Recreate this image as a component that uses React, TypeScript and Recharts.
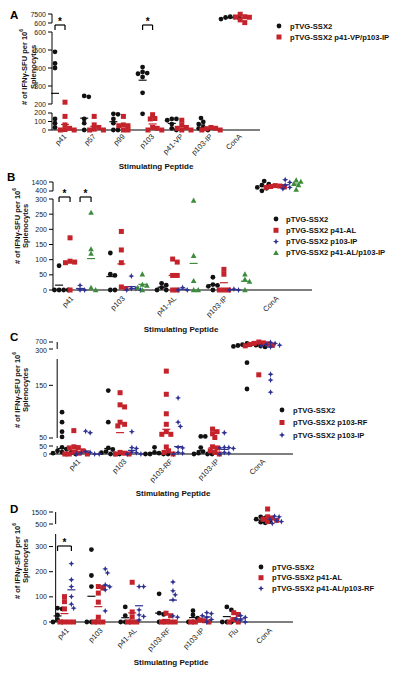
import React from 'react';
import { ScatterChart, Scatter, XAxis, YAxis, ReferenceLine } from 'recharts';

const FONT = '"Liberation Sans", Arial, Helvetica, sans-serif';
const BLACK = '#111111';
const RED = '#c4232b';
const BLUE = '#2e3192';
const GREEN = '#3c8c3c';

// ---------------- Panel A ----------------
const catsA = ['p41', 'p57', 'p99', 'p103', 'p41-VP', 'p103-IP', 'ConA'];
const aSSX2 = [
  [490, 425, 400, 130, 80, 30],
  [245, 240, 130, 80, 0],
  [190, 185, 130, 80, 0, 0],
  [405, 378, 372, 368, 350, 262, 190],
  [130, 130, 115, 70, 20, 0],
  [140, 95, 70, 35, 20, 0],
  [5400, 5100, 4800, 4300, 3600],
];
const aVPIP = [
  [210, 160, 60, 20, 5, 0, 0],
  [160, 60, 30, 10, 0, 0],
  [160, 60, 50, 50, 0, 0],
  [180, 135, 130, 30, 20, 0, 0],
  [115, 60, 30, 20, 0, 0],
  [30, 20, 15, 0, 0],
  [7300, 5400, 5200, 5000, 3000, 900],
];
const aTicks = [[0, 100, 200], [200, 300, 400, 500, 600], [600, 7500]];
const aNames = ['pTVG-SSX2', 'pTVG-SSX2 p41-VP/p103-IP'];

// ---------------- Panel B ----------------
const catsB = ['p41', 'p103', 'p41-AL', 'p103-IP', 'ConA'];
const bSSX2 = [
  [80, 0, 0, 0, 0],
  [122, 52, 48, 0, 0],
  [22, 16, 8, 0, 0],
  [42, 18, 15, 12, 0],
  [1500, 1150, 1050, 800, 700, 420],
];
const bAL = [
  [172, 95, 92, 90, 0],
  [193, 132, 90, 10, 5],
  [102, 92, 48, 48, 0, 0],
  [68, 52, 0, 0, 0],
  [1000, 950, 900, 850, 800],
];
const bIP = [
  [15, 0, 0],
  [46, 5, 5, 0, 0],
  [8, 0, 0],
  [3, 0, 0],
  [1650, 1350, 1050, 800, 650],
];
const bALIP = [
  [255, 135, 120, 8, 0],
  [52, 18, 15, 8, 0],
  [295, 113, 30, 0, 0],
  [52, 35, 28, 0],
  [1600, 1450, 1200, 1050, 550],
];
const bTicks = [[0, 50, 100, 150, 200, 250, 300], [400, 1400]];
const bNames = ['pTVG-SSX2', 'pTVG-SSX2 p41-AL', 'pTVG-SSX2 p103-IP', 'pTVG-SSX2 p41-AL/p103-IP'];

// ---------------- Panel C ----------------
const catsC = ['p41', 'p103', 'p103-RF', 'p103-IP', 'ConA'];
const cSSX2 = [
  [99, 80, 62, 52, 42, 30, 20, 12, 8, 5, 0, 0],
  [140, 80, 38, 28, 15, 8, 0, 0, 0],
  [42, 10, 5, 0, 0, 0, 0],
  [53, 53, 40, 15, 5, 0, 0, 0],
  [620, 580, 550, 520, 500, 470, 450, 420, 193, 143],
];
const cRF = [
  [64, 45, 40, 38, 20, 12, 5, 0, 0, 0],
  [136, 113, 109, 80, 76, 73, 10, 5, 0, 0],
  [177, 133, 96, 76, 62, 57, 57, 44, 20, 10, 0],
  [67, 62, 58, 51, 45, 38, 20, 10, 0],
  [700, 650, 620, 600, 560, 520, 480, 170],
];
const cIP = [
  [63, 60, 15, 10, 5, 0, 0, 0],
  [62, 40, 35, 12, 8, 0, 0],
  [126, 80, 72, 42, 38, 10, 5, 0],
  [60, 42, 40, 38, 35, 10, 5, 0],
  [680, 620, 560, 520, 480, 420, 171, 160, 137],
];
const cTicks = [[0, 50], [50, 150], [300, 700]];
const cNames = ['pTVG-SSX2', 'pTVG-SSX2 p103-RF', 'pTVG-SSX2 p103-IP'];

// ---------------- Panel D ----------------
const catsD = ['p41', 'p103', 'p41-AL', 'p103-RF', 'p103-IP', 'Flu', 'ConA'];
const dSSX2 = [
  [55, 52, 28, 10, 0, 0],
  [288, 185, 141, 0, 0, 0],
  [60, 25, 0, 0, 0],
  [112, 35, 30, 0, 0],
  [45, 28, 15, 0, 0],
  [60, 48, 0, 0, 0],
  [1100, 1000, 900, 750, 650, 600],
];
const dAL = [
  [101, 81, 52, 0, 0, 0, 0],
  [141, 135, 115, 79, 19, 0, 0, 0],
  [158, 40, 20, 0, 0, 0],
  [35, 25, 0, 0, 0, 0],
  [8, 5, 0, 0, 0],
  [37, 30, 10, 0, 0],
  [1750, 1100, 1000, 900, 800, 700],
];
const dALRF = [
  [232, 168, 141, 101, 71, 55],
  [211, 195, 148, 140, 128, 44],
  [141, 141, 48, 28, 22, 8],
  [159, 124, 108, 88, 24, 19],
  [37, 33, 25, 18, 10, 0],
  [25, 18, 12, 8, 0],
  [1150, 1100, 900, 800, 700, 550],
];
const dTicks = [[0, 100, 200, 300], [500, 1500]];
const dNames = ['pTVG-SSX2', 'pTVG-SSX2 p41-AL', 'pTVG-SSX2 p41-AL/p103-RF'];

// ---------------- layout ----------------
type Seg = { lo: number; hi: number; px: number };
type Series = { name: string; values: number[][]; color: string; kind: string; offset: number };
type Bracket = { cat: number; from: number; to: number; y: number };
type Panel = {
  letter: string; letterX: number; letterY: number;
  top: number; height: number;
  plotTop: number; plotBottom: number; plotLeft: number; plotRight: number;
  xDomain: [number, number];
  segs: Seg[]; gaps: number[]; ticks: number[][];
  cats: string[]; series: Series[]; brackets: Bracket[];
  tickDx: number; tickDy: number;
  yLab: { x1: number; x2: number; y: number };
  xLab: { x: number; y: number };
  legend: { mx: number; tx: number; y0: number; dy: number };
};

const HEAD = 14;
const YW = 30;
const XH = 30;
const YFONT = 7;

const panels: Panel[] = [
  {
    letter: 'A', letterX: 10, letterY: 18.5, top: 0, height: 180,
    plotTop: 14, plotBottom: 130, plotLeft: 52, plotRight: 260, xDomain: [-0.274, 6.85],
    segs: [{ lo: 0, hi: 200, px: 17 }, { lo: 200, hi: 600, px: 72 }, { lo: 600, hi: 7500, px: 9 }],
    gaps: [9, 9], ticks: aTicks, cats: catsA,
    series: [
      { name: aNames[0], values: aSSX2, color: BLACK, kind: 'circle', offset: -5 },
      { name: aNames[1], values: aVPIP, color: RED, kind: 'square', offset: 5 },
    ],
    brackets: [{ cat: 0, from: 0, to: 1, y: 105 }, { cat: 3, from: 0, to: 1, y: 105 }],
    tickDx: 7, tickDy: 7, yLab: { x1: 24, x2: 33, y: 67 }, xLab: { x: 156, y: 166 },
    legend: { mx: 279, tx: 290, y0: 26, dy: 11 },
  },
  {
    letter: 'B', letterX: 7, letterY: 180.5, top: 165, height: 175,
    plotTop: 182, plotBottom: 290, plotLeft: 53, plotRight: 312, xDomain: [-0.43, 4.62],
    segs: [{ lo: 0, hi: 300, px: 91 }, { lo: 400, hi: 1400, px: 9 }],
    gaps: [8], ticks: bTicks, cats: catsB,
    series: [
      { name: bNames[0], values: bSSX2, color: BLACK, kind: 'circle', offset: -16 },
      { name: bNames[1], values: bAL, color: RED, kind: 'square', offset: -5 },
      { name: bNames[2], values: bIP, color: BLUE, kind: 'star', offset: 5 },
      { name: bNames[3], values: bALIP, color: GREEN, kind: 'triangle', offset: 16 },
    ],
    brackets: [{ cat: 0, from: 0, to: 1, y: 93 }, { cat: 0, from: 2, to: 3, y: 93 }],
    tickDx: -1, tickDy: 9, yLab: { x1: 17, x2: 25, y: 226 }, xLab: { x: 181, y: 329 },
    legend: { mx: 276, tx: 286, y0: 219, dy: 11.3 },
  },
  {
    letter: 'C', letterX: 10, letterY: 340.5, top: 325, height: 175,
    plotTop: 342, plotBottom: 454, plotLeft: 53, plotRight: 293, xDomain: [-0.36, 4.74],
    segs: [{ lo: 0, hi: 50, px: 8 }, { lo: 50, hi: 200, px: 79 }, { lo: 300, hi: 700, px: 7 }],
    gaps: [8, 10], ticks: cTicks, cats: catsC,
    series: [
      { name: cNames[0], values: cSSX2, color: BLACK, kind: 'circle', offset: -12 },
      { name: cNames[1], values: cRF, color: RED, kind: 'square', offset: 0 },
      { name: cNames[2], values: cIP, color: BLUE, kind: 'star', offset: 12 },
    ],
    brackets: [],
    tickDx: 7, tickDy: 8, yLab: { x1: 17, x2: 25, y: 390 }, xLab: { x: 173, y: 493 },
    legend: { mx: 282, tx: 293, y0: 410, dy: 12.5 },
  },
  {
    letter: 'D', letterX: 10, letterY: 512.5, top: 495, height: 181,
    plotTop: 512, plotBottom: 622, plotLeft: 53, plotRight: 293, xDomain: [-0.26, 6.75],
    segs: [{ lo: 0, hi: 350, px: 88 }, { lo: 500, hi: 1500, px: 12 }],
    gaps: [10], ticks: dTicks, cats: catsD,
    series: [
      { name: dNames[0], values: dSSX2, color: BLACK, kind: 'circle', offset: -7 },
      { name: dNames[1], values: dAL, color: RED, kind: 'square', offset: 0 },
      { name: dNames[2], values: dALRF, color: BLUE, kind: 'star', offset: 7 },
    ],
    brackets: [{ cat: 0, from: 0, to: 2, y: 76 }],
    tickDx: 5, tickDy: 9, yLab: { x1: 17, x2: 25, y: 561 }, xLab: { x: 171, y: 662 },
    legend: { mx: 261, tx: 272, y0: 567, dy: 10.7 },
  },
];

// ---------------- helpers ----------------
function segBases(p: Panel): number[] {
  const b: number[] = [];
  let acc = 0;
  p.segs.forEach((s, i) => {
    b.push(acc);
    acc += s.px + (p.gaps[i] || 0);
  });
  return b;
}

function toDisplay(p: Panel, v: number): number {
  const bases = segBases(p);
  for (let i = 0; i < p.segs.length; i++) {
    const s = p.segs[i];
    if (v <= s.hi || i === p.segs.length - 1) {
      const vv = i > 0 && v < s.lo ? s.lo : v;
      return bases[i] + ((vv - s.lo) / (s.hi - s.lo)) * s.px;
    }
  }
  return 0;
}

function totalPx(p: Panel): number {
  const last = p.segs.length - 1;
  return segBases(p)[last] + p.segs[last].px;
}

function swarm(ys: number[], step: number): number[] {
  const idx = ys.map((_, i) => i).sort((a, b) => ys[b] - ys[a]);
  const placed: { x: number; y: number }[] = [];
  const out = new Array(ys.length).fill(0);
  for (const i of idx) {
    const y = ys[i];
    for (let k = 0; k < 80; k++) {
      const m = Math.ceil(k / 2) * (step / 2);
      const x = k === 0 ? 0 : k % 2 === 1 ? m : -m;
      if (placed.every((q) => (q.x - x) ** 2 + (q.y - y) ** 2 >= step * step * 0.85)) {
        out[i] = x;
        placed.push({ x, y });
        break;
      }
    }
  }
  return out;
}

function Marker({ kind, cx, cy, color }: { kind: string; cx: number; cy: number; color: string }) {
  if (kind === 'circle') return <circle cx={cx} cy={cy} r={2.4} fill={color} />;
  if (kind === 'square') return <rect x={cx - 2.5} y={cy - 2.5} width={5} height={5} fill={color} />;
  if (kind === 'triangle')
    return <path d={`M${cx},${cy - 2.9}L${cx + 2.8},${cy + 2.2}L${cx - 2.8},${cy + 2.2}Z`} fill={color} />;
  const r = 3, w = 0.9;
  return (
    <path
      d={`M${cx},${cy - r}L${cx + w},${cy - w}L${cx + r},${cy}L${cx + w},${cy + w}L${cx},${cy + r}L${cx - w},${cy + w}L${cx - r},${cy}L${cx - w},${cy - w}Z`}
      fill={color}
    />
  );
}

function PanelChart({ p }: { p: Panel }) {
  const pxPerUnit = (p.plotRight - p.plotLeft) / (p.xDomain[1] - p.xDomain[0]);
  const total = totalPx(p);
  const bases = segBases(p);
  const yTicks: { pos: number; label: string; nudge: number }[] = [];
  p.segs.forEach((s, si) =>
    p.ticks[si].forEach((t) =>
      yTicks.push({ pos: bases[si] + ((t - s.lo) / (s.hi - s.lo)) * s.px, label: String(t), nudge: 0 })
    )
  );
  // spread labels that sit too close together so they do not collide
  const MIN_SEP = 9;
  yTicks.sort((a, b) => a.pos - b.pos);
  yTicks.forEach((t, i) => {
    const below = i > 0 ? t.pos - yTicks[i - 1].pos : Infinity;
    const above = i < yTicks.length - 1 ? yTicks[i + 1].pos - t.pos : Infinity;
    let n = 0;
    if (below < MIN_SEP) n += (MIN_SEP - below) / 2; // push up (display units)
    if (above < MIN_SEP) n -= (MIN_SEP - above) / 2; // push down
    t.nudge = n;
  });

  const groupX = (ci: number, si: number) => ci + p.series[si].offset / pxPerUnit;

  const seriesData = p.series.map((s, si) =>
    p.cats.flatMap((_, ci) => {
      const vals = s.values[ci] || [];
      const ys = vals.map((v) => toDisplay(p, v));
      const dx = swarm(ys, 4.6);
      return vals.map((v, k) => ({ x: groupX(ci, si) + dx[k] / pxPerUnit, y: ys[k], v }));
    })
  );
  const meanData = p.series.map((s, si) =>
    p.cats.map((_, ci) => {
      const vals = s.values[ci] || [];
      const m = vals.reduce((a, b) => a + b, 0) / Math.max(vals.length, 1);
      return { x: groupX(ci, si), y: toDisplay(p, m) };
    })
  );
  const starData = p.brackets.map((b) => ({ x: (groupX(b.cat, b.from) + groupX(b.cat, b.to)) / 2, y: b.y + 5 }));

  const margin = {
    top: p.plotTop - HEAD - p.top,
    left: p.plotLeft - YW,
    right: 400 - p.plotRight,
    bottom: p.top + p.height - p.plotBottom - XH,
  };

  return (
    <div style={{ position: 'absolute', left: 0, top: p.top }}>
      <ScatterChart width={400} height={p.height} margin={margin}>
        <XAxis
          type="number"
          dataKey="x"
          domain={p.xDomain}
          ticks={p.cats.map((_, i) => i)}
          interval={0}
          height={XH}
          tickLine={false}
          tickSize={0}
          tickMargin={0}
          axisLine={{ stroke: '#000', strokeWidth: 1 }}
          tick={(tp: any) => {
            const tx = tp.x + p.tickDx;
            const ty = tp.y + p.tickDy;
            return (
              <text
                x={tx}
                y={ty}
                transform={`rotate(-45 ${tx} ${ty})`}
                textAnchor="end"
                fontSize={7.5}
                fill="#222"
                fontFamily={FONT}
              >
                {p.cats[tp.payload.value]}
              </text>
            );
          }}
        />
        <YAxis
          type="number"
          dataKey="y"
          domain={[0, total + HEAD]}
          ticks={yTicks.map((t) => t.pos)}
          interval={0}
          width={YW}
          axisLine={false}
          tickLine={{ stroke: '#000' }}
          tickSize={4}
          tickMargin={2}
          tick={(tp: any) => {
            const f = yTicks.find((t) => Math.abs(t.pos - tp.payload.value) < 0.01);
            if (!f) return <g />;
            return (
              <text
                x={tp.x}
                y={tp.y - f.nudge}
                textAnchor="end"
                dominantBaseline="central"
                fontSize={YFONT}
                fill="#222"
                fontFamily={FONT}
              >
                {f.label}
              </text>
            );
          }}
        />
        {p.segs.map((s, si) => (
          <ReferenceLine
            key={'seg' + si}
            segment={[
              { x: p.xDomain[0], y: bases[si] },
              { x: p.xDomain[0], y: bases[si] + s.px },
            ]}
            stroke="#000"
            strokeWidth={1}
            ifOverflow="visible"
          />
        ))}
        {p.brackets.flatMap((b, bi) => {
          const x1 = groupX(b.cat, b.from);
          const x2 = groupX(b.cat, b.to);
          return [
            <ReferenceLine key={'bt' + bi} segment={[{ x: x1, y: b.y }, { x: x2, y: b.y }]} stroke="#000" strokeWidth={1.2} ifOverflow="visible" />,
            <ReferenceLine key={'bl' + bi} segment={[{ x: x1, y: b.y }, { x: x1, y: b.y - 5 }]} stroke="#000" strokeWidth={1.2} ifOverflow="visible" />,
            <ReferenceLine key={'br' + bi} segment={[{ x: x2, y: b.y }, { x: x2, y: b.y - 5 }]} stroke="#000" strokeWidth={1.2} ifOverflow="visible" />,
          ];
        })}
        {p.series.map((s, si) => (
          <Scatter
            key={'mean' + si}
            name={s.name + ' mean'}
            data={meanData[si]}
            isAnimationActive={false}
            shape={(sp: any) => (
              <line x1={sp.cx - 4} x2={sp.cx + 4} y1={sp.cy} y2={sp.cy} stroke={s.color} strokeWidth={1.2} />
            )}
          />
        ))}
        {p.series.map((s, si) => (
          <Scatter
            key={'pts' + si}
            name={s.name}
            data={seriesData[si]}
            isAnimationActive={false}
            shape={(sp: any) => <Marker kind={s.kind} cx={sp.cx} cy={sp.cy} color={s.color} />}
          />
        ))}
        {starData.length > 0 && (
          <Scatter
            name="significance"
            data={starData}
            isAnimationActive={false}
            shape={(sp: any) => (
              <text x={sp.cx} y={sp.cy + 5} textAnchor="middle" fontSize={10} fontWeight="bold" fontFamily={FONT} fill="#000">
                *
              </text>
            )}
          />
        )}
      </ScatterChart>
    </div>
  );
}

function Overlay() {
  return (
    <svg width={400} height={676} style={{ position: 'absolute', left: 0, top: 0, pointerEvents: 'none' }}>
      {panels.map((p) => (
        <g key={'ov' + p.letter} fontFamily={FONT}>
          <text x={p.letterX} y={p.letterY} fontSize={11.5} fontWeight="bold" fill="#000">
            {p.letter}
          </text>
          <text
            x={p.yLab.x1}
            y={p.yLab.y}
            transform={`rotate(-90 ${p.yLab.x1} ${p.yLab.y})`}
            textAnchor="middle"
            dominantBaseline="central"
            fontSize={7.5}
            fontWeight="bold"
            fill="#111"
          >
            # of IFNγ-SFU per 10<tspan fontSize={5} dy={-3}>6</tspan>
          </text>
          <text
            x={p.yLab.x2}
            y={p.yLab.y}
            transform={`rotate(-90 ${p.yLab.x2} ${p.yLab.y})`}
            textAnchor="middle"
            dominantBaseline="central"
            fontSize={7.5}
            fontWeight="bold"
            fill="#111"
          >
            Splenocytes
          </text>
          <text x={p.xLab.x} y={p.xLab.y} textAnchor="middle" dominantBaseline="central" fontSize={8} fontWeight="bold" fill="#111">
            Stimulating Peptide
          </text>
          {p.series.map((s, si) => {
            const y = p.legend.y0 + si * p.legend.dy;
            return (
              <g key={'lg' + si}>
                <Marker kind={s.kind} cx={p.legend.mx} cy={y} color={s.color} />
                <text x={p.legend.tx} y={y} dominantBaseline="central" fontSize={7.6} fontWeight="bold" fill="#111">
                  {s.name}
                </text>
              </g>
            );
          })}
        </g>
      ))}
    </svg>
  );
}

export default function App() {
  return (
    <div style={{ position: 'absolute', left: 0, top: 0, width: 400, height: 676, background: '#fff' }}>
      {panels.map((p) => (
        <PanelChart key={p.letter} p={p} />
      ))}
      <Overlay />
    </div>
  );
}
